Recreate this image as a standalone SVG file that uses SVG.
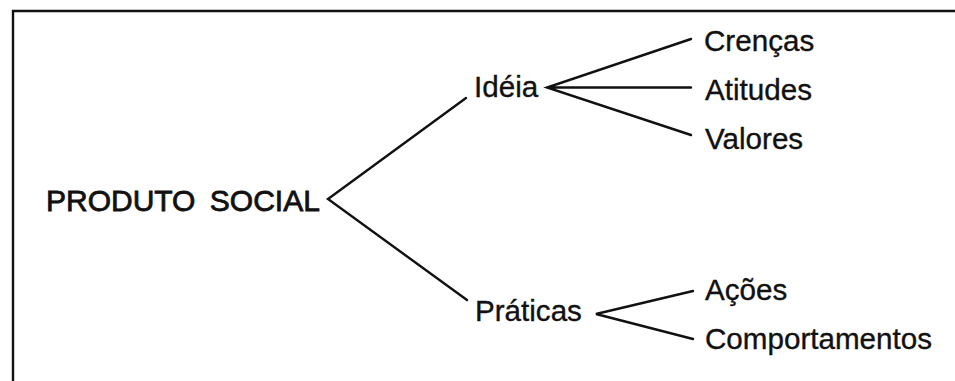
<svg xmlns="http://www.w3.org/2000/svg" width="955" height="381" viewBox="0 0 955 381">
  <style>
    .lbl { font-family: "Liberation Sans", Arial, sans-serif; font-size: 29.6px; fill: #111; stroke: #111; stroke-width: 0.35; }
    .title { font-family: "Liberation Sans", Arial, sans-serif; font-size: 30px; fill: #111; stroke: #111; stroke-width: 0.8; word-spacing: 6px; }
    .edge { stroke: #111; stroke-width: 2.4; fill: none; stroke-linecap: round; stroke-linejoin: miter; }
    .frame { stroke: #111; stroke-width: 2.4; fill: none; }
  </style>

  <rect width="955" height="381" fill="#ffffff"/>

  <!-- open frame: left and top sides only -->
  <path class="frame" d="M13,381 V11 H955"/>

  <g id="connectors">
    <path id="c-root" class="edge" d="M466,98 L328,199 L467,300"/>
    <path id="c-ideia" class="edge" d="M691,39 L547,87.5 L691,135 M547,87.5 H691"/>
    <path id="c-praticas" class="edge" d="M693,291 L596,314 L693,339"/>
  </g>

  <g id="produto-social">
    <text class="title" x="46" y="211">PRODUTO SOCIAL</text>
  </g>
  <g id="ideia">
    <text class="lbl" x="474" y="97">Idéia</text>
  </g>
  <g id="praticas">
    <text class="lbl" x="475" y="321">Práticas</text>
  </g>
  <g id="crencas">
    <text class="lbl" x="704" y="50.5">Crenças</text>
  </g>
  <g id="atitudes">
    <text class="lbl" x="705" y="99.5">Atitudes</text>
  </g>
  <g id="valores">
    <text class="lbl" x="705" y="149">Valores</text>
  </g>
  <g id="acoes">
    <text class="lbl" x="705" y="300">Ações</text>
  </g>
  <g id="comportamentos">
    <text class="lbl" x="705" y="349">Comportamentos</text>
  </g>
</svg>
